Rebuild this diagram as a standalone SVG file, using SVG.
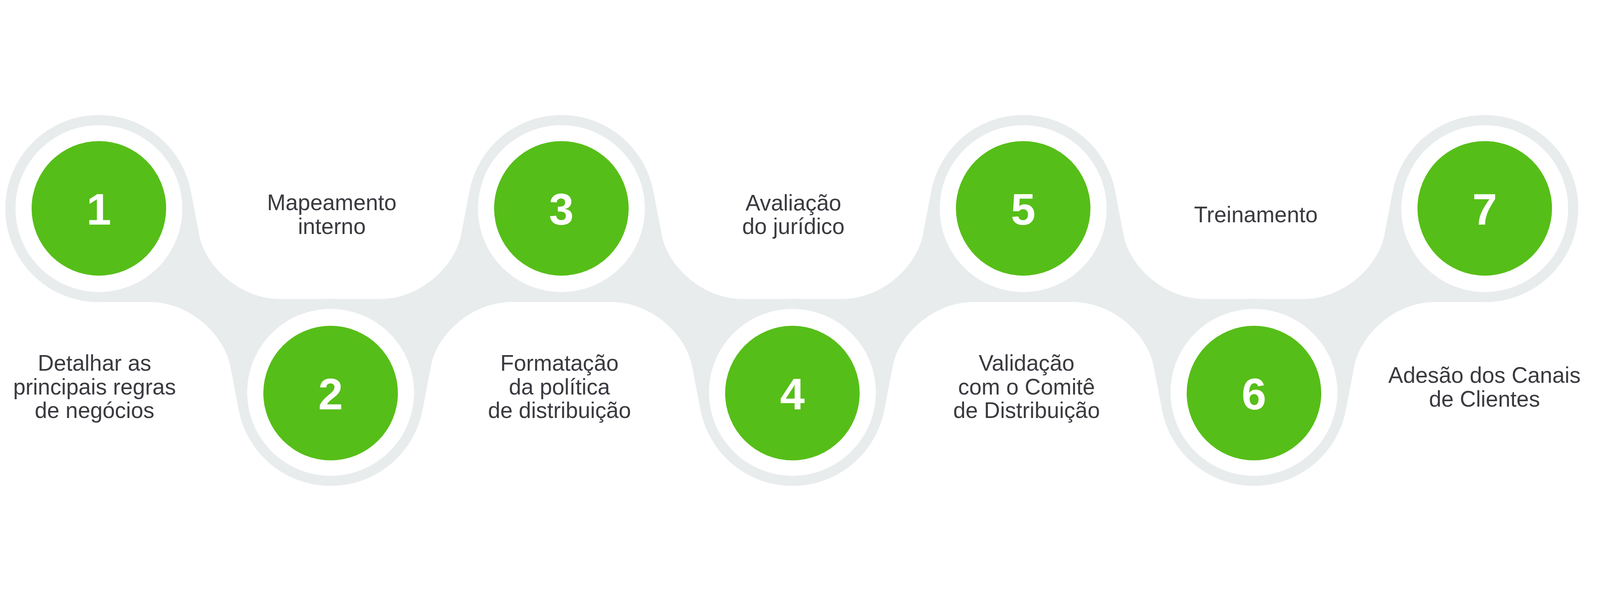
<svg xmlns="http://www.w3.org/2000/svg" width="6635" height="1536" viewBox="0 0 6635 1536">
<style>
svg:root{width:100vw;height:100vh}
.band{fill:#E8ECEC}
.lobe{fill:#FFFFFF}
.ring{fill:#E8ECEC}
.inner{fill:#FFFFFF}
.dot{fill:#56BE18}
.num{font-family:"Liberation Sans",Arial,sans-serif;font-weight:bold;font-size:184px;fill:#FFFFFF;text-anchor:middle}
.lbl{font-family:"Liberation Sans",Arial,sans-serif;font-size:92px;fill:#3A3A40;text-anchor:middle}
</style>
<rect x="0" y="0" width="6635" height="1536" fill="#FFFFFF"/>
<g id="connectors">
<rect class="band" x="410" y="0" width="5747" height="1536"/>
<path class="lobe" d="M408,-10 L408,320 L792,320 L826,498 C851,628 993,764 1163,764 L1575,764 C1745,764 1887,628 1912,498 L1946,320 L2330,320 L2330,-10 Z"/>
<path class="lobe" d="M2326,-10 L2326,320 L2710,320 L2744,498 C2769,628 2911,764 3081,764 L3490,764 C3660,764 3802,628 3827,498 L3861,320 L4245,320 L4245,-10 Z"/>
<path class="lobe" d="M4241,-10 L4241,320 L4625,320 L4659,498 C4684,628 4826,764 4996,764 L5404,764 C5574,764 5716,628 5741,498 L5775,320 L6159,320 L6159,-10 Z"/>
<path class="lobe" d="M-10,1546 L-10,776 L618,776 C788,776 930,912 955,1042 L989,1220 L1373,1220 L1373,1546 Z"/>
<path class="lobe" d="M1369,1546 L1369,1220 L1753,1220 L1787,1042 C1812,912 1954,776 2124,776 L2533,776 C2703,776 2845,912 2870,1042 L2904,1220 L3288,1220 L3288,1546 Z"/>
<path class="lobe" d="M3284,1546 L3284,1220 L3668,1220 L3702,1042 C3727,912 3869,776 4039,776 L4447,776 C4617,776 4759,912 4784,1042 L4818,1220 L5202,1220 L5202,1546 Z"/>
<path class="lobe" d="M5198,1546 L5198,1220 L5582,1220 L5616,1042 C5641,912 5783,776 5953,776 L6645,776 L6645,1546 Z"/>
</g>
<g id="step1">
<circle class="ring" cx="410" cy="389" r="388"/>
<circle class="inner" cx="410" cy="389" r="346"/>
<circle class="dot" cx="410" cy="388" r="279"/>
<text class="num" x="410" y="456">1</text>
<text class="lbl" x="392" y="1061">Detalhar as</text>
<text class="lbl" x="392" y="1160">principais regras</text>
<text class="lbl" x="392" y="1258">de negócios</text>
</g>
<g id="step2">
<circle class="ring" cx="1371" cy="1151" r="388"/>
<circle class="inner" cx="1371" cy="1151" r="346"/>
<circle class="dot" cx="1371" cy="1154" r="279"/>
<text class="num" x="1371" y="1222">2</text>
<text class="lbl" x="1376" y="396">Mapeamento</text>
<text class="lbl" x="1376" y="494">interno</text>
</g>
<g id="step3">
<circle class="ring" cx="2328" cy="389" r="388"/>
<circle class="inner" cx="2328" cy="389" r="346"/>
<circle class="dot" cx="2328" cy="388" r="279"/>
<text class="num" x="2328" y="456">3</text>
<text class="lbl" x="2320" y="1061">Formatação</text>
<text class="lbl" x="2320" y="1160">da política</text>
<text class="lbl" x="2320" y="1258">de distribuição</text>
</g>
<g id="step4">
<circle class="ring" cx="3286" cy="1151" r="388"/>
<circle class="inner" cx="3286" cy="1151" r="346"/>
<circle class="dot" cx="3286" cy="1154" r="279"/>
<text class="num" x="3286" y="1222">4</text>
<text class="lbl" x="3290" y="397">Avaliação</text>
<text class="lbl" x="3290" y="495">do jurídico</text>
</g>
<g id="step5">
<circle class="ring" cx="4243" cy="389" r="388"/>
<circle class="inner" cx="4243" cy="389" r="346"/>
<circle class="dot" cx="4243" cy="388" r="279"/>
<text class="num" x="4243" y="456">5</text>
<text class="lbl" x="4257" y="1061">Validação</text>
<text class="lbl" x="4257" y="1160">com o Comitê</text>
<text class="lbl" x="4257" y="1258">de Distribuição</text>
</g>
<g id="step6">
<circle class="ring" cx="5200" cy="1151" r="388"/>
<circle class="inner" cx="5200" cy="1151" r="346"/>
<circle class="dot" cx="5200" cy="1154" r="279"/>
<text class="num" x="5200" y="1222">6</text>
<text class="lbl" x="5208" y="446">Treinamento</text>
</g>
<g id="step7">
<circle class="ring" cx="6157" cy="389" r="388"/>
<circle class="inner" cx="6157" cy="389" r="346"/>
<circle class="dot" cx="6157" cy="388" r="279"/>
<text class="num" x="6157" y="456">7</text>
<text class="lbl" x="6156" y="1112">Adesão dos Canais</text>
<text class="lbl" x="6156" y="1210">de Clientes</text>
</g>
</svg>
